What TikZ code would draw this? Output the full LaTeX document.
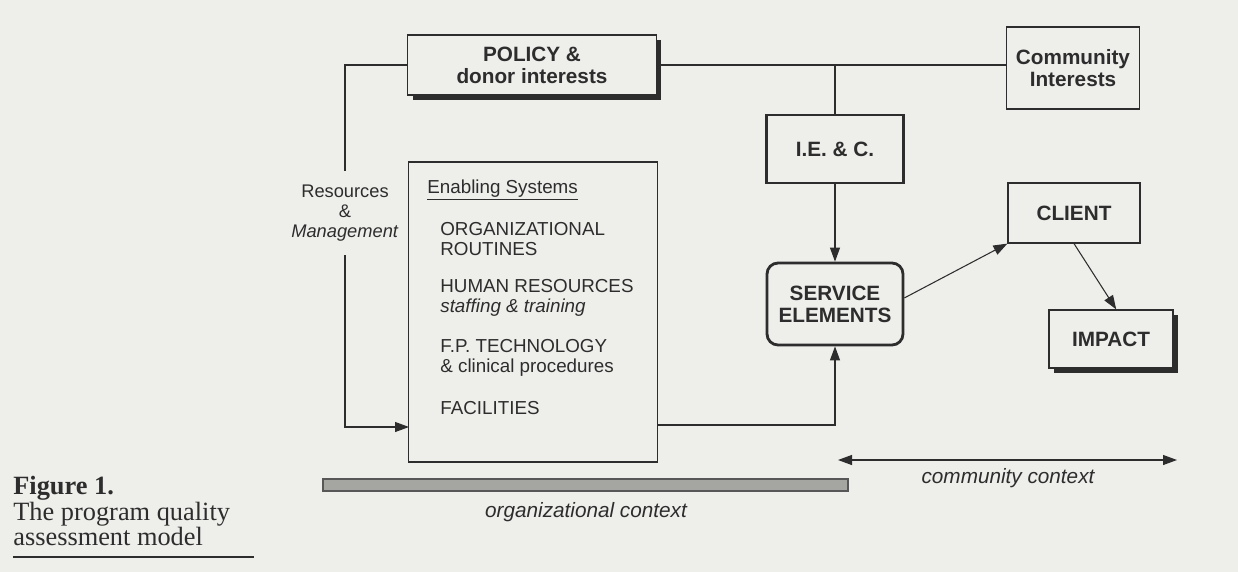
\documentclass[tikz,border=0pt]{standalone}
\usepackage{fontspec}
\setmainfont{Liberation Sans}
\newfontfamily\capfont{Liberation Serif}
\usetikzlibrary{arrows.meta,shadows}
\definecolor{paper}{RGB}{238,238,235}
\definecolor{ink}{RGB}{45,45,45}
\definecolor{barfill}{RGB}{165,165,162}

\begin{document}
\begin{tikzpicture}[x=0.02cm, y=-0.02cm, color=ink,
  line/.style={draw=ink, line width=0.6pt},
  arr/.style={line, -{Triangle[length=0.28cm,width=0.2cm]}},
  box/.style={draw=ink, line width=0.7pt, fill=paper, align=center, inner sep=0pt,
    font=\bfseries\fontsize{11.8}{12.5}\selectfont},
  heavy/.style={box, line width=1.6pt},
  shade/.style={copy shadow={shadow xshift=0.1cm, shadow yshift=-0.1cm, fill=ink, draw=none}},
  item/.style={anchor=west, align=left, inner sep=0pt, font=\fontsize{10.7}{11.2}\selectfont},
  ctx/.style={inner sep=0pt, font=\itshape\fontsize{11.8}{12}\selectfont},
  caption/.style={anchor=base west, inner sep=0pt, font=\capfont\fontsize{15}{15.5}\selectfont}]
\fill[paper] (0,0) rectangle (1238,572);
\useasboundingbox (0,0) rectangle (1238,572);

% boxes
\node[box, shade, minimum width=4.98cm, minimum height=1.2cm] (policy) at (532,65) {POLICY \&\\donor interests};
\node[box, minimum width=2.66cm, minimum height=1.64cm] (community) at (1073,68) {Community\\Interests};
\node[heavy, minimum width=2.74cm, minimum height=1.36cm] (iec) at (835,149) {I.E. \& C.};
\node[box, minimum width=4.98cm, minimum height=6cm] (enabling) at (533,312) {};
\node[box, minimum width=2.64cm, minimum height=1.2cm] (client) at (1074,213) {CLIENT};
\node[heavy, rounded corners=0.22cm, minimum width=2.72cm, minimum height=1.64cm] (service) at (835,304) {SERVICE\\ELEMENTS};
\node[box, shade, minimum width=2.48cm, minimum height=1.16cm] (impact) at (1111,339) {IMPACT};

% inside the enabling systems box
\node[item] (systems) at (427,190) {\underline{Enabling Systems}};
\node[item] (routines) at (440,239) {ORGANIZATIONAL\\ROUTINES};
\node[item] (humanres) at (440,298) {HUMAN RESOURCES\\\textit{staffing \& training}};
\node[item] (fptech) at (440,358) {F.P. TECHNOLOGY\\\& clinical procedures};
\node[item] (facilities) at (440,408) {FACILITIES};

\node[align=center, inner xsep=0pt, inner ysep=0.27cm, font=\fontsize{10.4}{11.4}\selectfont]
  (resources) at (345,213) {Resources\\\&\\\textit{Management}};

% connectors
\coordinate (esin) at (409,427);
\coordinate (esout) at (658,425);
\draw[line] (policy.west) -| (resources.north);
\draw[arr] (resources.south) |- (esin);
\draw[line] (policy.east) -- (policy.east -| community.west);
\draw[line] (iec.north) -- (iec.north |- policy.east);
\draw[arr] (iec.south) -- (service.north);
\draw[arr] (esout) -| (service.south);
\draw[arr] (service.5) -- (client.south west);
\draw[arr] (client.south) -- (impact.80);

% contexts
\draw[draw=ink!80, fill=barfill, line width=0.6pt] (323,479) rectangle (848,491);
\node[ctx] (orgctx) at (586,512) {organizational context};
\coordinate (ccleft) at (838,460);
\coordinate (ccright) at (1177,460);
\draw[line, {Triangle[length=0.28cm,width=0.2cm]}-{Triangle[length=0.28cm,width=0.2cm]}] (ccleft) -- (ccright);
\node[ctx] (commctx) at (1008,478) {community context};

% caption
\node[caption] (figno) at (13,494) {\textbf{Figure 1.}};
\node[caption] (capone) at (13,520) {The program quality};
\node[caption] (captwo) at (13,545) {assessment model};
\draw[line] (13,557) -- (254,557);
\end{tikzpicture}
\end{document}
